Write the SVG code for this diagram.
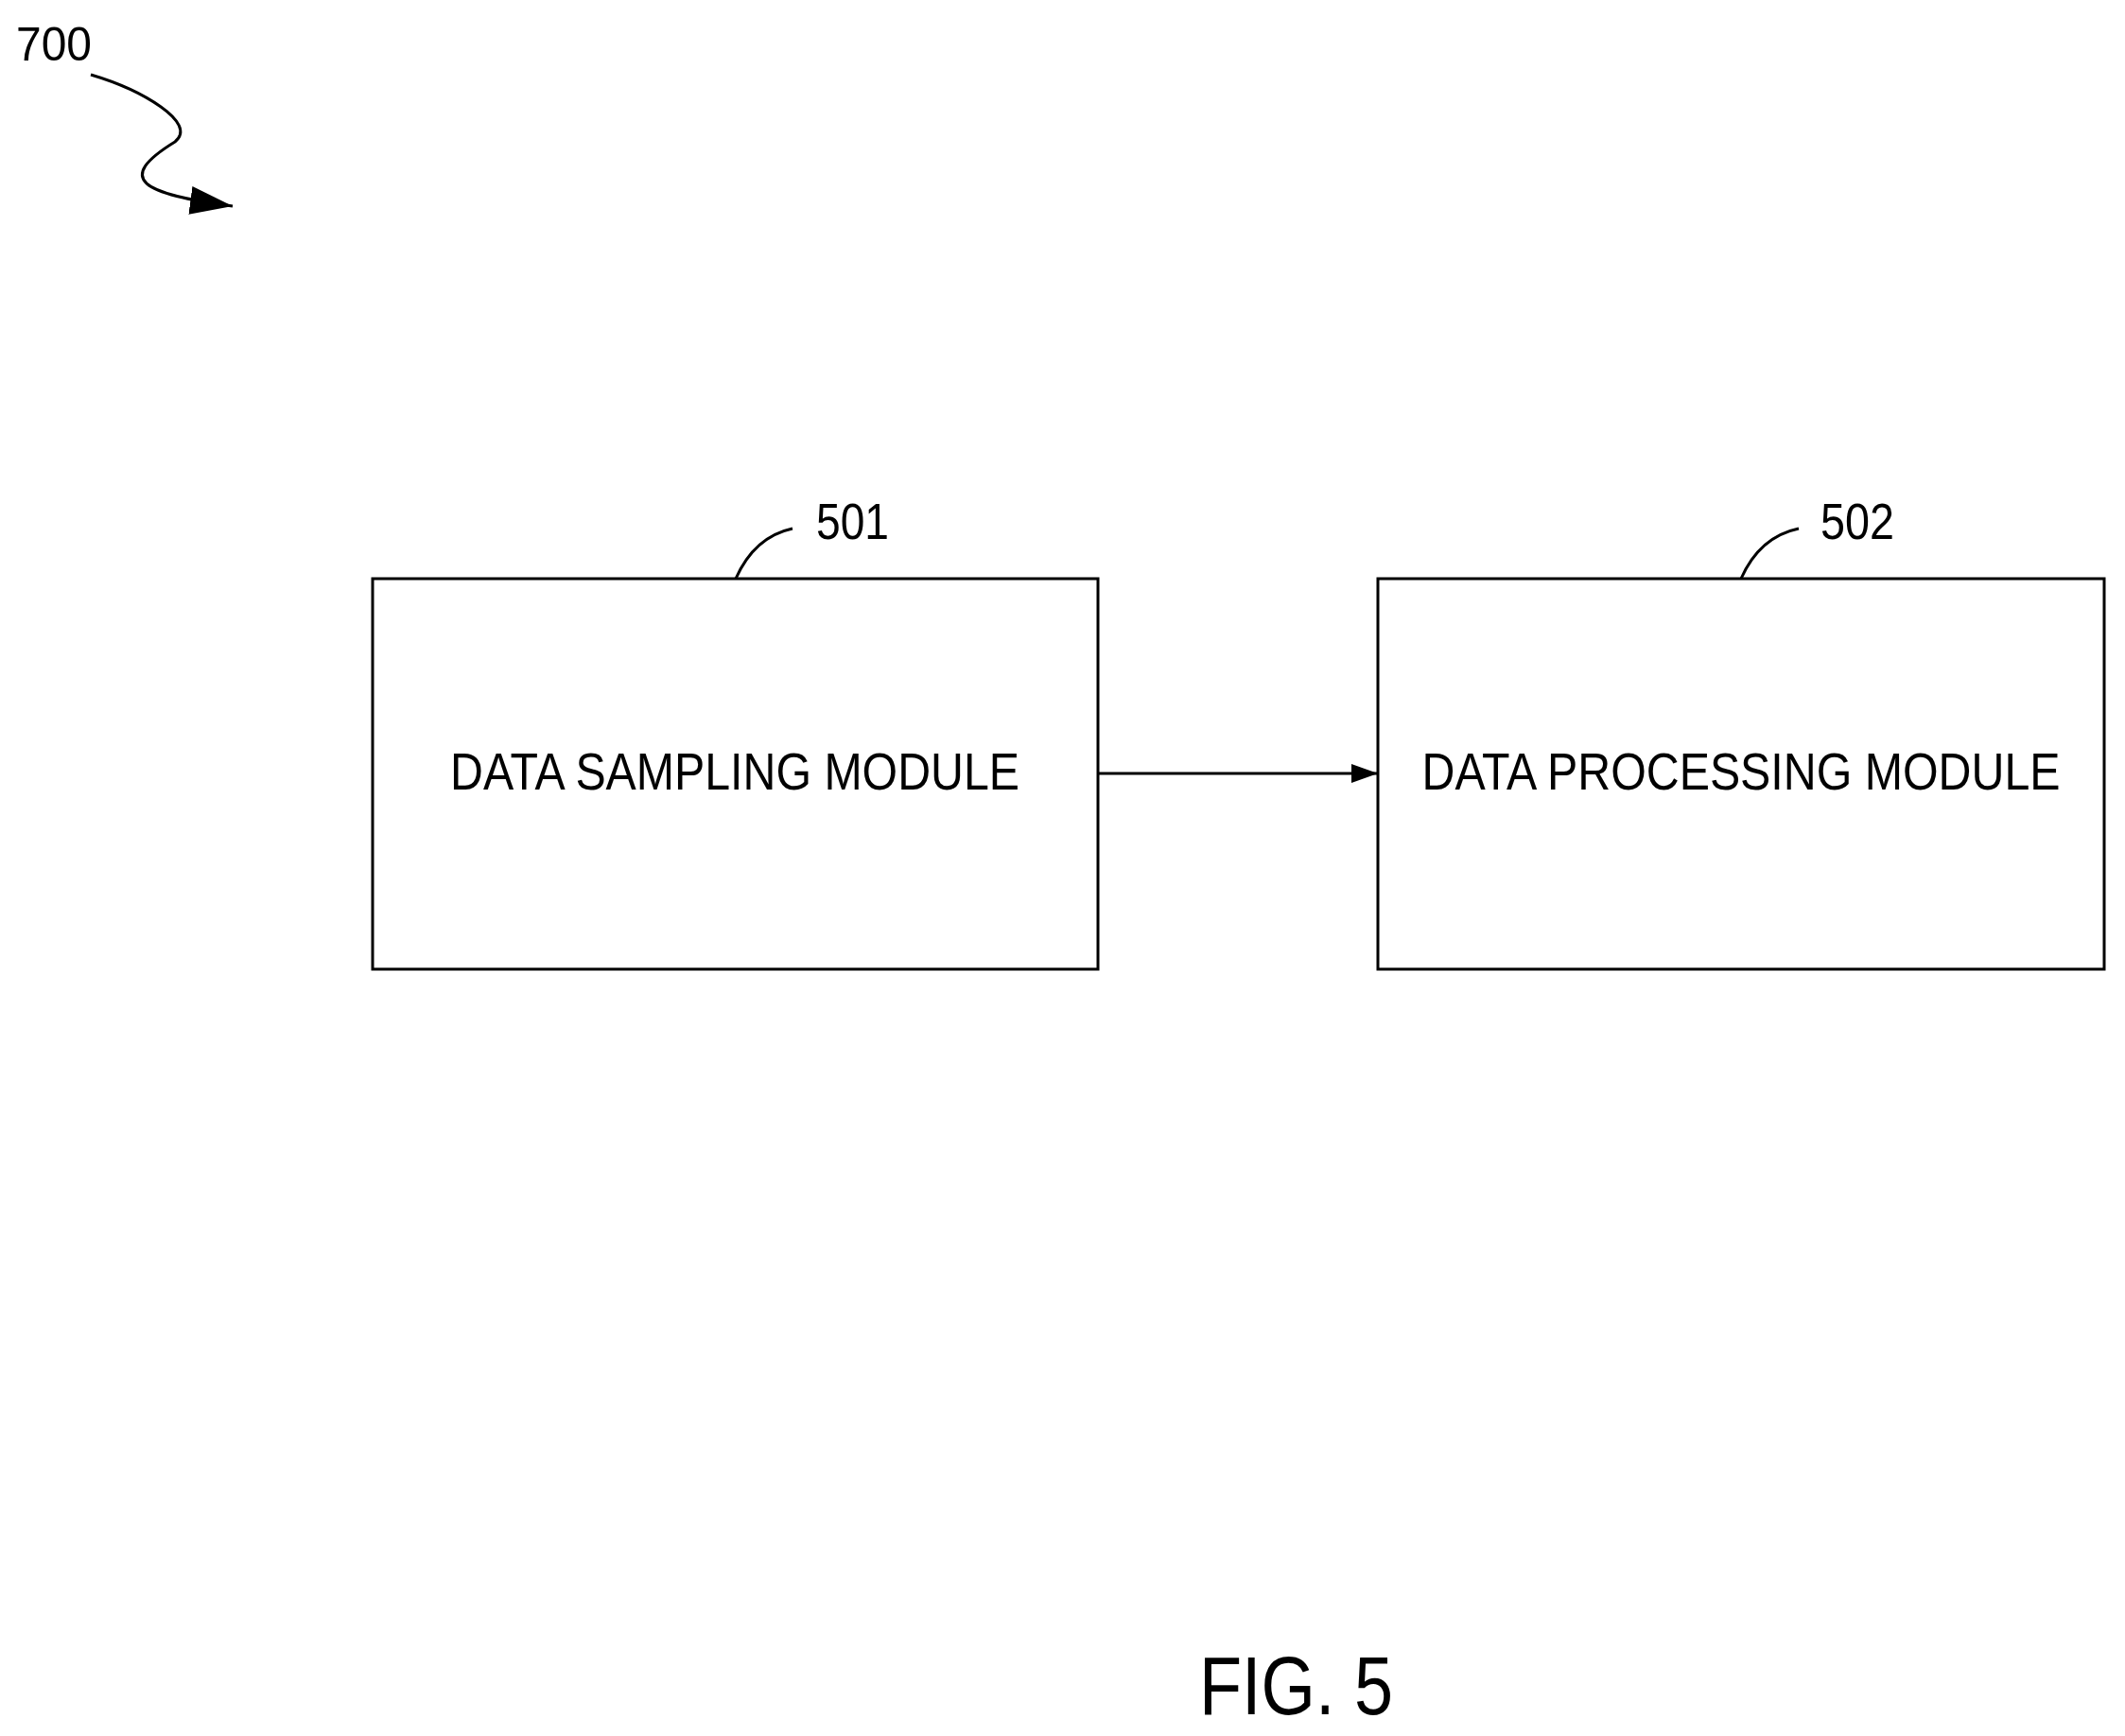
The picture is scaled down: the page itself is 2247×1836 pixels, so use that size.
<svg xmlns="http://www.w3.org/2000/svg" width="2247" height="1836" viewBox="0 0 2247 1836">
<style>
.box{fill:#fff;stroke:#000;stroke-width:3}
.ln{fill:none;stroke:#000;stroke-width:3}
.t{font-family:"Liberation Sans",Arial,sans-serif;fill:#000}
</style>
<defs>
<marker id="ah" viewBox="0 0 10 10" refX="10" refY="5" markerWidth="28" markerHeight="20" markerUnits="userSpaceOnUse" orient="auto" preserveAspectRatio="none"><path d="M0,0L10,5L0,10Z"/></marker>
<marker id="ah2" viewBox="0 0 10 10" refX="10" refY="5" markerWidth="45" markerHeight="30" markerUnits="userSpaceOnUse" orient="auto" preserveAspectRatio="none"><path d="M0,0L10,5L0,10Z"/></marker>
</defs>
<rect width="2247" height="1836" fill="#fff"/>
<g id="ref700">
<text class="t" x="17" y="64" font-size="50" textLength="80" lengthAdjust="spacingAndGlyphs">700</text>
<path class="ln" d="M96,79 C150,95 210,130 185,150 C120,190 150,205 246,218" marker-end="url(#ah2)"/>
</g>
<g id="n501">
<rect class="box" x="394" y="612" width="767" height="413"/>
<text class="t" x="777" y="835" font-size="56" text-anchor="middle" textLength="602" lengthAdjust="spacingAndGlyphs">DATA SAMPLING MODULE</text>
<path class="ln" d="M778,612 C790,585 810,565 838,559"/>
<text class="t" x="863" y="570" font-size="54" textLength="77" lengthAdjust="spacingAndGlyphs">501</text>
</g>
<g id="n502">
<rect class="box" x="1457" y="612" width="768" height="413"/>
<text class="t" x="1841" y="835" font-size="56" text-anchor="middle" textLength="675" lengthAdjust="spacingAndGlyphs">DATA PROCESSING MODULE</text>
<path class="ln" d="M1841,612 C1853,585 1873,565 1902,559"/>
<text class="t" x="1925" y="570" font-size="54" textLength="78" lengthAdjust="spacingAndGlyphs">502</text>
</g>
<g id="connectors">
<line class="ln" x1="1161" y1="818" x2="1457" y2="818" marker-end="url(#ah)"/>
</g>
<text class="t" x="1268" y="1813" font-size="88" textLength="205" lengthAdjust="spacingAndGlyphs">FIG. 5</text>
</svg>
